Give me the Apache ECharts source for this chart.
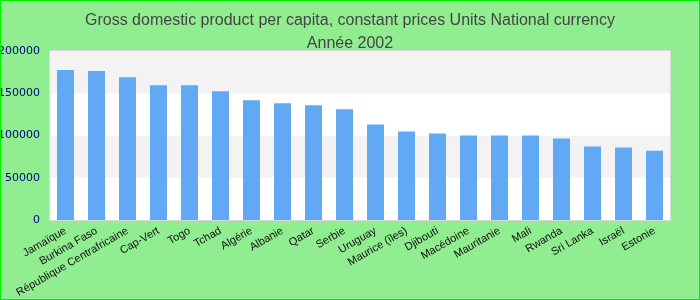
<!DOCTYPE html>
<html><head><meta charset="utf-8">
<script src="https://cdn.jsdelivr.net/npm/echarts@6/dist/echarts.min.js"></script>
<style>html,body{margin:0;padding:0;background:#90EE90}#c{width:700px;height:300px;box-sizing:border-box;border:1px solid #00ee00}</style>
</head><body><div id="c"></div>
<script>
const categories = ["Jamaïque","Burkina Faso","République Centrafricaine","Cap-Vert","Togo","Tchad","Algérie","Albanie","Qatar","Serbie","Uruguay","Maurice (îles)","Djibouti","Macédoine","Mauritanie","Mali","Rwanda","Sri Lanka","Israël","Estonie"];
const values = [177400,176200,169000,159500,159500,152400,141700,138100,135700,131000,113100,104800,102400,100000,100000,100000,96400,86900,85700,82100];
const titleText = "Gross domestic product per capita, constant prices Units National currency\nAnnée 2002";

const chart = echarts.init(document.getElementById('c'), null, {renderer:'canvas'});
chart.setOption({
  backgroundColor: '#90EE90',
  animation: false,
  title: {
    text: titleText, left: 'center', top: 3,
    textStyle: {fontFamily: 'Liberation Sans, Arial, sans-serif', fontSize: 16, fontWeight: 'normal', color: '#444', lineHeight: 23},
  },
  grid: {left: 49, right: 29, top: 50, bottom: 79, containLabel: false, outerBoundsMode: 'none', show: true, backgroundColor: '#fff', borderColor: '#d8d8d8', borderWidth: 2},
  xAxis: {
    type: 'category', data: categories,
    axisLine: {show: false}, axisTick: {show: false},
    axisLabel: {rotate: 30, interval: 0, color: '#111', fontSize: 11, fontFamily: 'Liberation Sans, Arial, sans-serif', margin: 10}
  },
  yAxis: {
    type: 'value', min: 0, max: 200000, interval: 50000,
    axisLine: {show: false}, axisTick: {show: false},
    splitLine: {show: false},
    splitArea: {show: true, areaStyle: {color: ['#ffffff', '#f3f3f3']}},
    axisLabel: {color: '#000080', fontSize: 11, fontFamily: 'DejaVu Sans, sans-serif', margin: 10, formatter: v => String(v)}
  },
  series: [{type: 'bar', data: values, barWidth: 17, itemStyle: {color: '#62A9F5'}}]
});
</script></body></html>
